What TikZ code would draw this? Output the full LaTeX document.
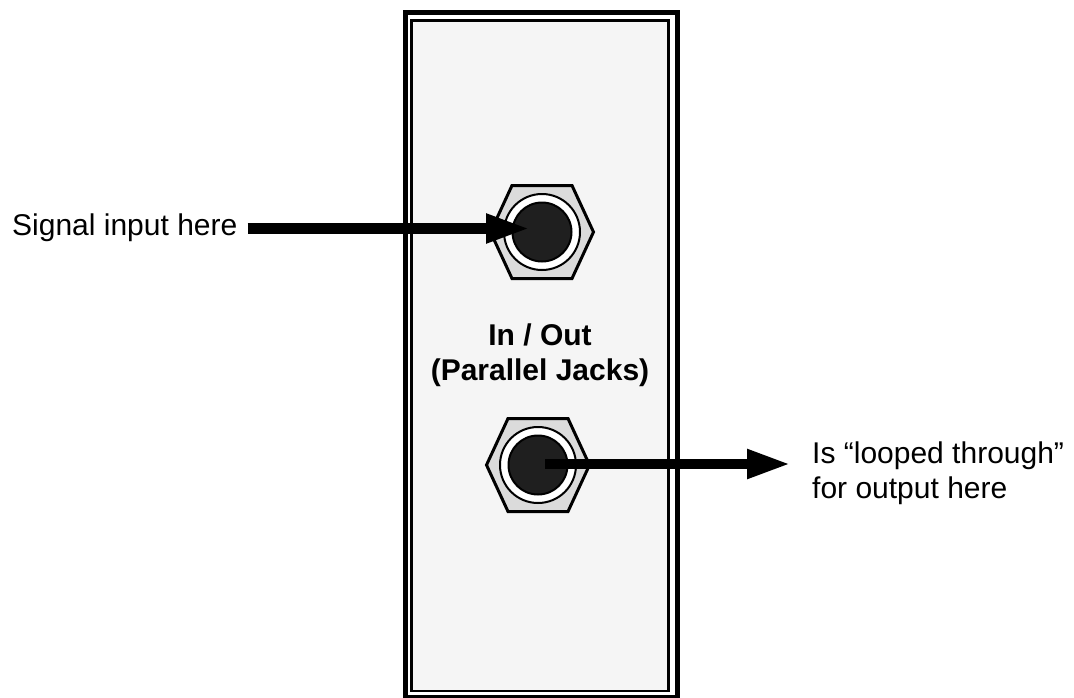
\documentclass[tikz,border=0pt]{standalone}
\usepackage{fontspec}
\setmainfont{Liberation Sans}
\usetikzlibrary{arrows.meta}
\tikzset{
  txt/.style={inner sep=0pt, font=\fontsize{30}{35}\selectfont},
  boldtxt/.style={txt, font=\fontsize{30}{35}\selectfont\bfseries, align=center},
  bigarrow/.style={line width=10.5pt, -{Triangle[length=44pt,width=27pt]}},
  hexnut/.style={draw=black, line width=3pt, fill=black!14, line join=miter},
  ring/.style={draw=black, line width=2pt, fill=white},
  hole/.style={draw=black, line width=2pt, fill=black!88},
}
\newcommand{\jackshape}[1]{%
  \path[hexnut] ([shift={(-51.5,0)}]#1) -- ([shift={(-30,-46.5)}]#1) -- ([shift={(30,-46.5)}]#1)
     -- ([shift={(51.5,0)}]#1) -- ([shift={(30,46.5)}]#1) -- ([shift={(-30,46.5)}]#1) -- cycle;
  \path[ring] (#1) circle[radius=38];
  \path[hole] (#1) circle[radius=29.5];
}
\begin{document}
\begin{tikzpicture}[x=1pt,y=-1pt]
\useasboundingbox (0,0) rectangle (1074,697);
% panel
\draw[line width=4.5pt, fill=white] (405.5,12.5) rectangle (677.5,697.5);
\draw[line width=2.5pt, fill=black!4] (411.5,20.5) rectangle (668.5,691);
% jacks
\coordinate (jin) at (542,232);
\coordinate (jout) at (538,465);
\jackshape{jin}
\jackshape{jout}
% labels
\node[txt, anchor=base west] (sig) at (12,235) {Signal input here};
\node[boldtxt, anchor=base] (inout) at (540,345) {In / Out};
\node[boldtxt, anchor=base] (par) at (540,380) {(Parallel Jacks)};
\node[txt, anchor=base west] (loop1) at (812,463) {Is “looped through”};
\node[txt, anchor=base west] (loop2) at (812,498) {for output here};
% arrows
\coordinate (inTip) at (530,228.5);
\coordinate (outTip) at (791,464);
\draw[bigarrow] ([xshift=10pt]sig.east |- inTip) -- (inTip);
\draw[bigarrow] ([xshift=7pt]jout |- outTip) -- (outTip);
\end{tikzpicture}
\end{document}
